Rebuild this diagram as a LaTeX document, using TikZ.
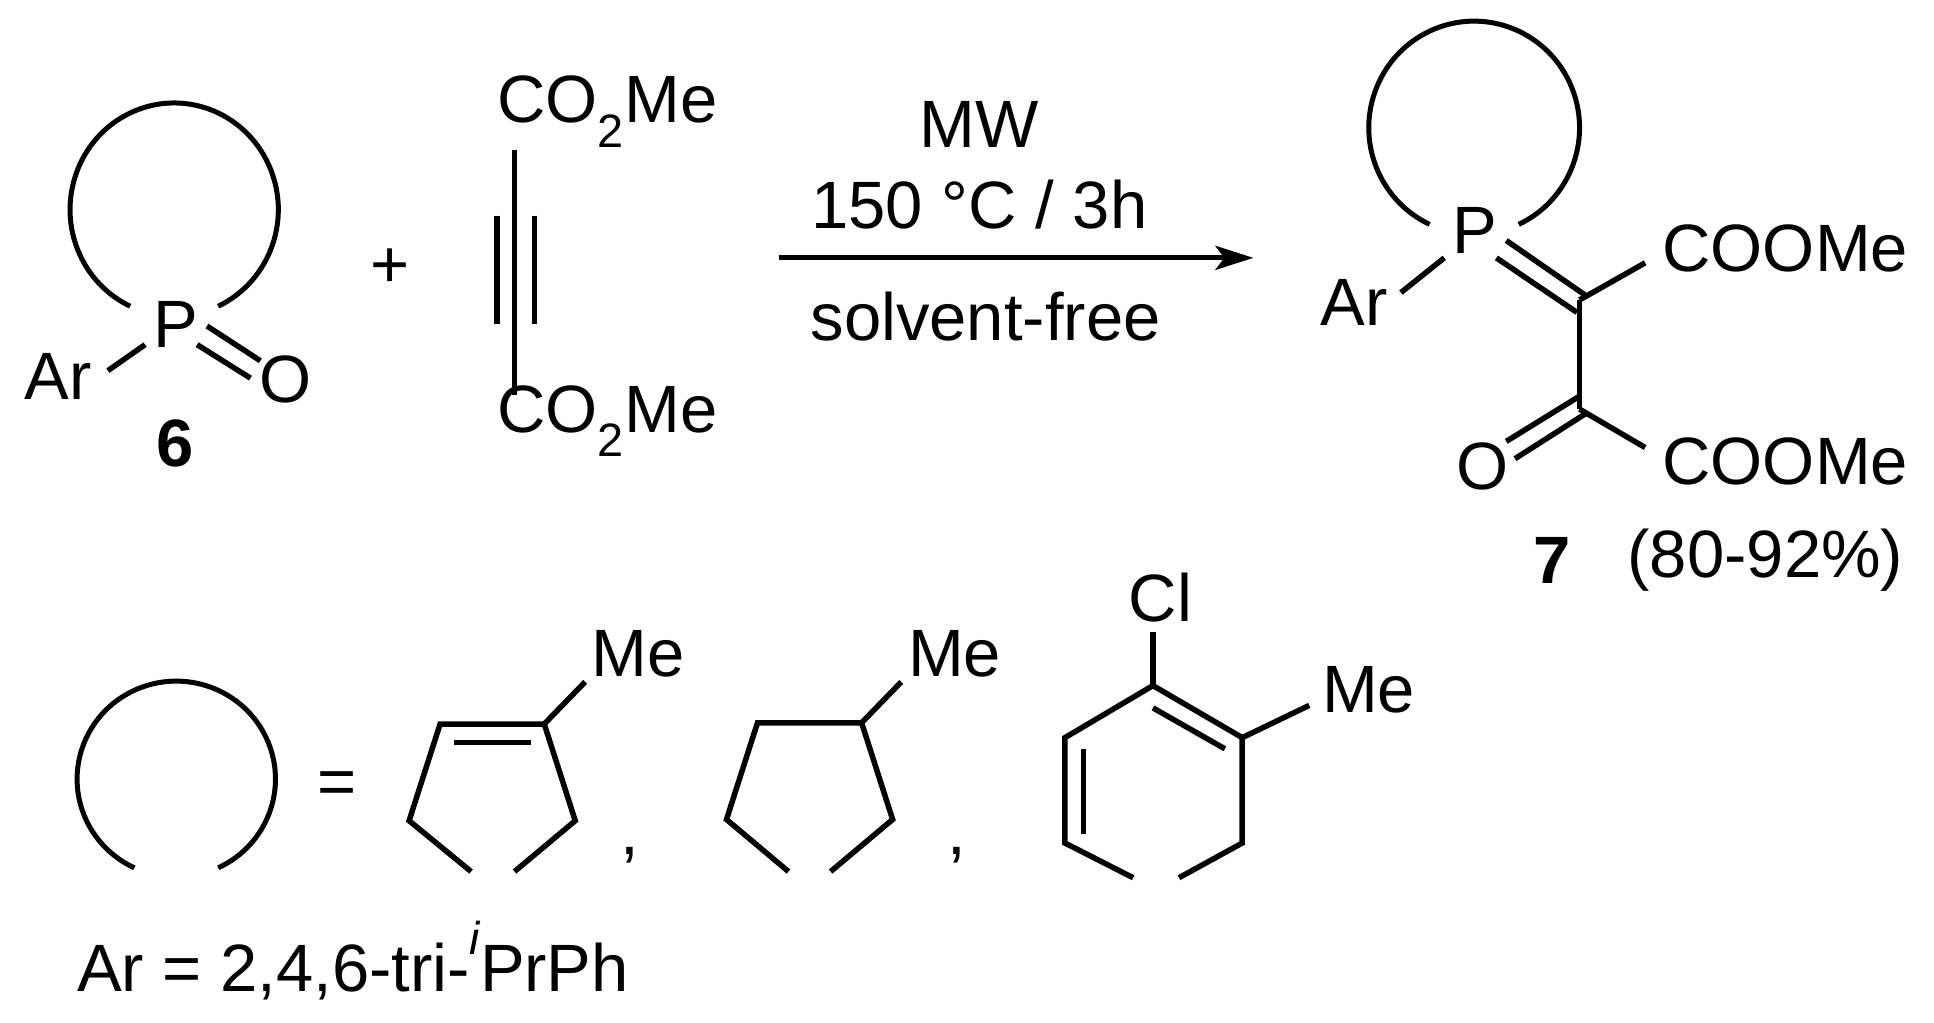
\documentclass[tikz,border=0pt]{standalone}
\usepackage{fontspec}
\setmainfont{Liberation Sans}
\usetikzlibrary{arrows.meta}
\begin{document}
\begin{tikzpicture}[x=1.24pt,y=-1.24pt,
  lbl/.style={inner sep=0pt,font=\fontsize{67}{72}\selectfont},
  bnd/.style={line width=5.5pt,line cap=butt},
  ring/.style={line width=5pt}]
\useasboundingbox (0,0) rectangle (1560,825);
% ---------- compound 6 ----------
\node[lbl] (P6) at (142,262) {P};
\node[lbl] (Ar6) at (47,304) {Ar};
\node[lbl] (O6) at (230,306) {O};
\node[lbl,font=\fontsize{67}{72}\selectfont\bfseries] (n6) at (141,358) {6};
\coordinate (r6s) at (176,247);
\draw[ring] (r6s) arc[start angle=65,end angle=-245,x radius=84,y radius=86];
\coordinate (a1) at (117,278); \coordinate (a2) at (87,299);
\draw[bnd] (a1) -- (a2);
\coordinate (d1) at (167,263); \coordinate (d2) at (210,291);
\coordinate (d3) at (159,278); \coordinate (d4) at (202,305);
\draw[bnd] (d1) -- (d2); \draw[bnd] (d3) -- (d4);
\node[lbl] (plus) at (315,216) {+};
% ---------- DMAD ----------
\node[lbl] (ct) at (490,90) {CO\textsubscript{2}Me};
\node[lbl] (cb) at (490,340) {CO\textsubscript{2}Me};
\coordinate (y1) at (415,121); \coordinate (y2) at (415,319);
\draw[bnd] (y1) -- (y2);
\coordinate (y3) at (401,174); \coordinate (y4) at (401,261);
\coordinate (y5) at (431,174); \coordinate (y6) at (431,261);
\draw[bnd] (y3) -- (y4); \draw[bnd] (y5) -- (y6);
% ---------- arrow ----------
\coordinate (ar1) at (628,208); \coordinate (ar2) at (1011,208);
\draw[line width=5pt,-{Stealth[length=38pt,width=24pt,inset=9pt]}] (ar1) -- (ar2);
\node[lbl] (mw) at (790,100) {MW};
\node[lbl] (cond) at (790,165) {150 °C / 3h};
\node[lbl] (sf) at (795,255) {solvent-free};
% ---------- compound 7 ----------
\node[lbl] (P7) at (1190,186) {P};
\node[lbl] (Ar7) at (1092,244) {Ar};
\coordinate (r7s) at (1225,181);
\draw[ring] (r7s) arc[start angle=65,end angle=-245,x radius=85,y radius=86];
\coordinate (b1) at (1165,208); \coordinate (b2) at (1130,236);
\draw[bnd] (b1) -- (b2);
\coordinate (C1) at (1274,242); \coordinate (C2) at (1274,330);
\coordinate (e1) at (1215,194); \coordinate (e2) at (1280,239);
\coordinate (e3) at (1207,208); \coordinate (e4) at (1272,252);
\draw[bnd] (e1) -- (e2); \draw[bnd] (e3) -- (e4);
\draw[bnd] (C1) -- (C2);
\node[lbl] (es1) at (1440,200) {COOMe};
\node[lbl] (es2) at (1440,372) {COOMe};
\coordinate (f1) at (1327,212);
\draw[bnd] (C1) -- (f1);
\coordinate (f2) at (1327,361);
\draw[bnd] (C2) -- (f2);
\node[lbl] (O7) at (1196,376) {O};
\coordinate (g1) at (1275,319); \coordinate (g2) at (1215,356);
\coordinate (g3) at (1280,333); \coordinate (g4) at (1222,370);
\draw[bnd] (g1) -- (g2); \draw[bnd] (g3) -- (g4);
\node[lbl,font=\fontsize{67}{72}\selectfont\bfseries] (n7) at (1252,452) {7};
\node[lbl] (yld) at (1424,452) {(80-92\%)};
% ---------- legend ----------
\coordinate (r8s) at (176,700);
\draw[ring] (r8s) arc[start angle=65,end angle=-245,x radius=80,y radius=79];
\node[lbl] (eq) at (272,636) {=};
% cyclopentene
\coordinate (p1) at (355,584); \coordinate (p2) at (439,584);
\coordinate (p3) at (464,662); \coordinate (p4) at (415,703);
\coordinate (p5) at (380,703); \coordinate (p6) at (330,662);
\draw[bnd,line join=miter] (p4) -- (p3) -- (p2) -- (p1) -- (p6) -- (p5);
\coordinate (p7) at (366,599); \coordinate (p8) at (428,599);
\draw[bnd] (p7) -- (p8);
\coordinate (pm) at (472,550);
\draw[bnd] (p2) -- (pm);
\node[lbl] (me1) at (515,527) {Me};
\node[lbl] (cm1) at (508,690) {,};
% cyclopentane
\coordinate (q1) at (611,583); \coordinate (q2) at (695,583);
\coordinate (q3) at (720,661); \coordinate (q4) at (670,703);
\coordinate (q5) at (636,703); \coordinate (q6) at (586,661);
\draw[bnd,line join=miter] (q4) -- (q3) -- (q2) -- (q1) -- (q6) -- (q5);
\coordinate (qm) at (727,550);
\draw[bnd] (q2) -- (qm);
\node[lbl] (me2) at (770,527) {Me};
\node[lbl] (cm2) at (772,690) {,};
% chloro ring
\coordinate (h1) at (930,553); \coordinate (h2) at (1002,595);
\coordinate (h3) at (1002,680); \coordinate (h4) at (951,708);
\coordinate (h5) at (914,708); \coordinate (h6) at (859,680);
\coordinate (h7) at (859,595);
\draw[bnd,line join=miter] (h4) -- (h3) -- (h2) -- (h1) -- (h7) -- (h6) -- (h5);
\coordinate (i1) at (874,604); \coordinate (i2) at (874,673);
\draw[bnd] (i1) -- (i2);
\coordinate (i3) at (930,571); \coordinate (i4) at (988,604);
\draw[bnd] (i3) -- (i4);
\coordinate (cl) at (930,510);
\draw[bnd] (h1) -- (cl);
\node[lbl] (Cl) at (936,482) {Cl};
\coordinate (hm) at (1056,569);
\draw[bnd] (h2) -- (hm);
\node[lbl] (me3) at (1104,556) {Me};
\node[lbl,anchor=west] (arl) at (62,775) {Ar = 2,4,6-tri-\raisebox{0.55em}{\fontsize{46}{50}\selectfont\itshape i}PrPh};
\end{tikzpicture}
\end{document}
